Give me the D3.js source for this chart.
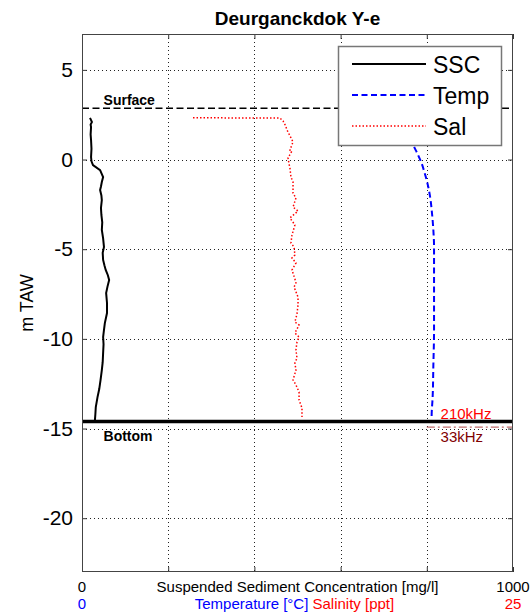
<!DOCTYPE html>
<html><head><meta charset="utf-8">
<script src="https://cdn.jsdelivr.net/npm/d3@7/dist/d3.min.js"></script>
<style>
body{margin:0;background:#fff;}
svg text{font-family:"Liberation Sans",Arial,sans-serif;}
</style></head>
<body><svg id="c" width="530" height="616"></svg>
<script>
// ---- data ----
const title = "Deurganckdok Y-e";
const yTicks = [-20, -15, -10, -5, 0, 5];
const xTicks = [0, 200, 400, 600, 800, 1000];
const sscDepth = [2.32, 2.2, 2.09, 1.95, 1.81, 1.4, 1.09, 0.6, 0.14, -0.1, -0.31, -0.59, -0.98, -1.25, -1.5, -1.70, -2.0, -2.26, -2.7, -3.09, -3.5, -3.93, -4.4, -4.88, -5.2, -5.60, -5.9, -6.16, -6.45, -6.72, -7.1, -7.44, -8.0, -8.56, -9.12, -9.5, -9.90, -10.3, -10.79, -11.3, -11.74, -12.30, -12.8, -13.25, -13.80, -14.2, -14.53];
const sscValue = [18.6, 21, 23, 20, 21, 20, 21, 22, 21, 22, 25.5, 42, 49, 46, 44, 42, 45, 46, 44, 45, 47, 46, 49, 51, 48, 49, 52, 55, 60, 63, 59, 56, 58, 58, 53, 51, 49, 50, 49, 48, 46, 43, 40, 36, 32, 31, 30];
const tempDepth = [2.2, 1.6, 0.81, 0.3, -0.21, -0.7, -1.14, -2.07, -2.98, -3.93, -4.86, -7.0, -9.50, -11.5, -13.22, -14.34, -14.5];
const tempValue = [18.7, 18.95, 19.22, 19.47, 19.70, 19.86, 19.99, 20.19, 20.30, 20.38, 20.42, 20.42, 20.42, 20.38, 20.34, 20.28, 20.28];
const salDepth = [2.33, 2.32, 2.31, 2.15, 1.9, 1.65, 0.98, 0.53, 0.48, 0.09, -0.25, -0.47, -0.97, -1.25, -1.87, -2.15, -2.65, -2.87, -3.26, -3.65, -4.21, -4.65, -4.88, -5.32, -5.49, -5.77, -6.16, -6.66, -6.88, -7.11, -7.67, -8.11, -8.61, -9.06, -9.23, -9.67, -9.90, -10.17, -10.62, -11.07, -11.35, -11.74, -12.29, -12.57, -12.96, -13.41, -13.69, -13.86, -14.36];
const salValue = [6.44, 9.0, 11.49, 11.66, 11.8, 11.89, 12.24, 12.06, 12.18, 11.95, 12.01, 12.06, 12.12, 12.24, 12.24, 12.41, 12.24, 12.53, 12.06, 12.35, 12.18, 12.12, 12.30, 12.35, 12.18, 12.41, 12.18, 12.35, 12.41, 12.30, 12.53, 12.53, 12.47, 12.35, 12.59, 12.35, 12.59, 12.47, 12.41, 12.47, 12.35, 12.41, 12.24, 12.41, 12.59, 12.59, 12.70, 12.76, 12.76];
const surfaceLevel = 2.86;
const bottom210 = -14.61;
const bottom33 = -14.92;
const bottom33Start = 800;
const legendNames = ["SSC", "Temp", "Sal"];

// ---- layout ----
const L = 82, R = 513, T = 34, B = 572;
const svg = d3.select("#c");
const x = d3.scaleLinear().domain([0, 1000]).range([L, R]);
const xT = d3.scaleLinear().domain([0, 25]).range([L, R]);
const y = d3.scaleLinear().domain([-23, 7]).range([B, T]);

// grid
const grid = svg.append("g").attr("stroke", "#222").attr("stroke-width", 1).attr("stroke-dasharray", "1,3");
grid.selectAll(".gx").data(xTicks.slice(1, -1)).join("line")
  .attr("x1", d => Math.round(x(d)) + 0.5).attr("x2", d => Math.round(x(d)) + 0.5)
  .attr("y1", T).attr("y2", B);
grid.selectAll(".gy").data(yTicks).join("line")
  .attr("y1", d => Math.round(y(d)) + 0.5).attr("y2", d => Math.round(y(d)) + 0.5)
  .attr("x1", L).attr("x2", R);

// data lines
const salLine = d3.line().x(d => xT(d[1])).y(d => y(d[0]));
svg.append("path").datum(d3.zip(salDepth, salValue)).attr("d", salLine)
  .attr("fill", "none").attr("stroke", "#ff0000").attr("stroke-width", 1.5).attr("stroke-dasharray", "1.5,2");
const sscLine = d3.line().x(d => x(d[1])).y(d => y(d[0]));
svg.append("path").datum(d3.zip(sscDepth, sscValue)).attr("d", sscLine)
  .attr("fill", "none").attr("stroke", "#000").attr("stroke-width", 2);
svg.append("path").datum(d3.zip(tempDepth, tempValue)).attr("d", d3.line().x(d => xT(d[1])).y(d => y(d[0])).curve(d3.curveMonotoneY))
  .attr("fill", "none").attr("stroke", "#0000ff").attr("stroke-width", 2).attr("stroke-dasharray", "6,3.5");

// surface / bottom
svg.append("line").attr("x1", L).attr("x2", R).attr("y1", y(surfaceLevel)).attr("y2", y(surfaceLevel))
  .attr("stroke", "#000").attr("stroke-width", 1.6).attr("stroke-dasharray", "7,3.5");
svg.append("text").attr("x", x(50)).attr("y", y(surfaceLevel) - 3).attr("font-size", 14).attr("font-weight", "bold").text("Surface");
svg.append("line").attr("x1", x(bottom33Start)).attr("x2", R).attr("y1", y(bottom33)).attr("y2", y(bottom33))
  .attr("stroke", "#b04848").attr("stroke-width", 1).attr("stroke-dasharray", "8,3,2,3");
svg.append("line").attr("x1", L).attr("x2", R).attr("y1", y(bottom210)).attr("y2", y(bottom210))
  .attr("stroke", "#000").attr("stroke-width", 3.5);
svg.append("text").attr("x", x(50)).attr("y", y(bottom210) + 19).attr("font-size", 14).attr("font-weight", "bold").text("Bottom");
svg.append("text").attr("x", x(832)).attr("y", y(bottom210) - 3).attr("font-size", 15).attr("fill", "#ff0000").text("210kHz");
svg.append("text").attr("x", x(832)).attr("y", y(bottom33) + 15).attr("font-size", 15).attr("fill", "#800000").text("33kHz");

// axes (inward ticks, box)
const axG = svg.append("g");
const axLeft = axG.append("g").attr("transform", `translate(${L},0)`)
  .call(d3.axisLeft(y).tickValues(yTicks).tickSize(-5).tickPadding(9).tickFormat(d3.format("d")));
axG.append("g").attr("transform", `translate(${R},0)`)
  .call(d3.axisRight(y).tickValues(yTicks).tickSize(-5).tickFormat(""));
axG.append("g").attr("transform", `translate(0,${T})`)
  .call(d3.axisTop(x).tickValues(xTicks).tickSize(-5).tickFormat(""));
axG.append("g").attr("transform", `translate(0,${B})`)
  .call(d3.axisBottom(x).tickValues(xTicks).tickSize(-5).tickFormat(""));
axG.selectAll(".domain").remove();
axG.selectAll(".tick line").attr("stroke", "#333");
axLeft.selectAll("text").attr("font-size", 21).attr("fill", "#000").attr("font-family", "Liberation Sans, Arial, sans-serif").text(d => d < 0 ? "-" + Math.abs(d) : d);
svg.append("rect").attr("x", L + 0.5).attr("y", T + 0.5).attr("width", R - L - 1).attr("height", B - T - 1)
  .attr("fill", "none").attr("stroke", "#444").attr("stroke-width", 1);

// x labels
const fs = 15, yl1 = 592, yl2 = 609;
svg.append("text").attr("x", x(0)).attr("y", yl1).attr("text-anchor", "middle").attr("font-size", fs).text(x.domain()[0]);
svg.append("text").attr("x", x(1000)).attr("y", yl1).attr("text-anchor", "middle").attr("font-size", fs).text(x.domain()[1]);
svg.append("text").attr("x", (L + R) / 2).attr("y", yl1).attr("text-anchor", "middle").attr("font-size", fs).text("Suspended Sediment Concentration [mg/l]");
svg.append("text").attr("x", xT(0)).attr("y", yl2).attr("text-anchor", "middle").attr("font-size", fs).attr("fill", "#0000ff").text(xT.domain()[0]);
svg.append("text").attr("x", xT(25)).attr("y", yl2).attr("text-anchor", "middle").attr("font-size", fs).attr("fill", "#ff0000").text(xT.domain()[1]);
const t2 = svg.append("text").attr("x", (L + R) / 2 - 3).attr("y", yl2).attr("text-anchor", "middle").attr("font-size", fs);
t2.append("tspan").attr("fill", "#0000ff").text("Temperature [°C]  ");
t2.append("tspan").attr("fill", "#ff0000").text("Salinity [ppt]");

// y label & title
svg.append("text").attr("transform", `translate(33,${(T + B) / 2}) rotate(-90)`).attr("text-anchor", "middle").attr("font-size", 18).text("m TAW");
svg.append("text").attr("x", (L + R) / 2).attr("y", 25).attr("text-anchor", "middle").attr("font-size", 19).attr("font-weight", "bold").text(title);

// legend
const lg = svg.append("g");
lg.append("rect").attr("x", 338.5).attr("y", 46.5).attr("width", 163).attr("height", 99)
  .attr("fill", "#fff").attr("stroke", "#777").attr("stroke-width", 1.5);
const styles = [
  {c: "#000", w: 2, da: null},
  {c: "#0000ff", w: 2, da: "6,3.5"},
  {c: "#ff0000", w: 1.5, da: "1.5,2"}
];
legendNames.forEach((n, i) => {
  const yy = 64 + i * 31;
  lg.append("line").attr("x1", 352).attr("x2", 426).attr("y1", yy).attr("y2", yy)
    .attr("stroke", styles[i].c).attr("stroke-width", styles[i].w).attr("stroke-dasharray", styles[i].da);
  lg.append("text").attr("x", 433).attr("y", yy + 9).attr("font-size", 23).text(n);
});
</script></body></html>
